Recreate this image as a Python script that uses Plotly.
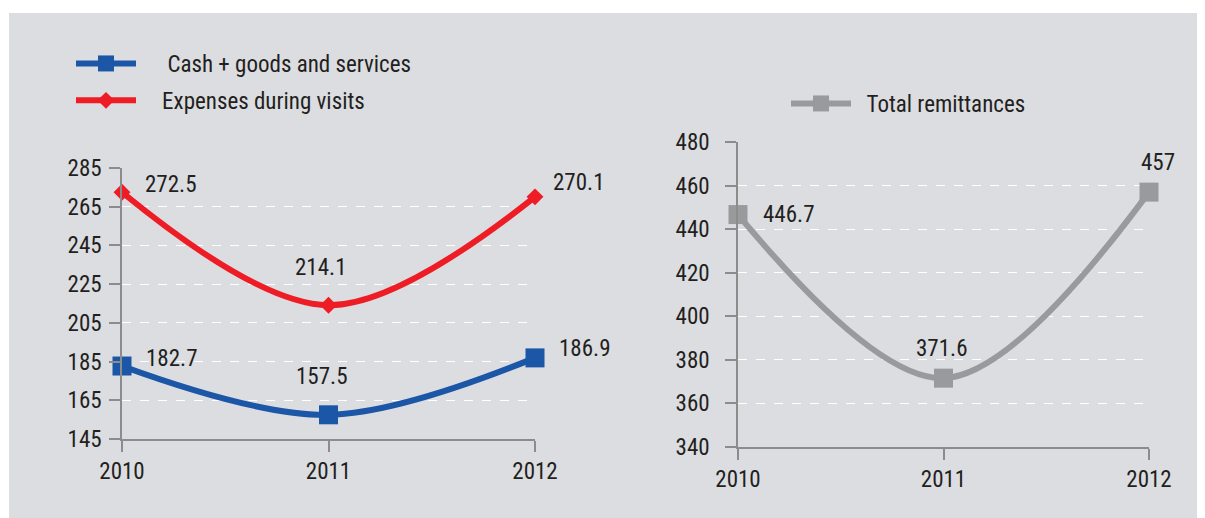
import plotly.graph_objects as go

years = [2010, 2011, 2012]
cash_goods = [182.7, 157.5, 186.9]
expenses_visits = [272.5, 214.1, 270.1]
total_remit = [446.7, 371.6, 457]

left_ticks = [145, 165, 185, 205, 225, 245, 265, 285]
right_ticks = [340, 360, 380, 400, 420, 440, 460, 480]

W, H = 1205, 518
OFF = 8  # page body margin
FONT = "Roboto Condensed, Liberation Sans Narrow, DejaVu Sans Condensed, sans-serif"
FS = 23
TXT = "#231f20"
AX = "#8c8c8c"
BG = "#dcdde0"

def px_x(p):
    return (p - OFF) / W

def px_y(p):
    return 1 - (p - OFF) / H

fig = go.Figure()

fig.add_trace(go.Scatter(
    x=years, y=cash_goods, name="\u00a0\u00a0\u00a0\u00a0\u00a0Cash + goods and services",
    mode="lines+markers", line=dict(color="#1b56a7", width=6, shape="spline", smoothing=1),
    marker=dict(symbol="square", size=19, color="#1b56a7"),
    xaxis="x", yaxis="y", legend="legend", legendgroup="a", cliponaxis=False))
fig.add_trace(go.Scatter(
    x=years, y=expenses_visits, name="\u00a0\u00a0\u00a0\u00a0Expenses during visits",
    mode="lines+markers", line=dict(color="#ee1c25", width=6, shape="spline", smoothing=1),
    marker=dict(symbol="diamond", size=13, color="#ee1c25"),
    xaxis="x", yaxis="y", legend="legend", legendgroup="b", cliponaxis=False))
fig.add_trace(go.Scatter(
    x=years, y=total_remit, name="\u00a0\u00a0Total remittances",
    mode="lines+markers", line=dict(color="#999a9c", width=6, shape="spline", smoothing=1),
    marker=dict(symbol="square", size=19, color="#999a9c"),
    xaxis="x2", yaxis="y2", legend="legend2", cliponaxis=False))

annots = []
def lab(xref, yref, x, y, dx, dy):
    annots.append(dict(x=x, y=y, xref=xref, yref=yref, text=f"{y:g}", showarrow=False,
                       xshift=dx, yshift=dy, font=dict(size=FS, color=TXT, family=FONT)))

for x, y, dx, dy in zip(years, expenses_visits, [48, -8, 43], [8, 38, 14]):
    lab("x", "y", x, y, dx, dy)
for x, y, dx, dy in zip(years, cash_goods, [49, -7, 49], [8, 38, 9]):
    lab("x", "y", x, y, dx, dy)
for x, y, dx, dy in zip(years, total_remit, [50, -2, 9], [0, 30, 30]):
    lab("x2", "y2", x, y, dx, dy)

xcommon = dict(showline=True, linecolor=AX, linewidth=1.5, ticks="outside", ticklen=11,
               tickcolor=AX, tickwidth=1.5, showgrid=False, zeroline=False, automargin=False,
               tickvals=years, ticktext=[str(v) for v in years],
               tickfont=dict(size=FS, color=TXT, family=FONT), fixedrange=True)
ycommon = dict(showline=True, linecolor=AX, linewidth=1.5, ticks="outside", ticklen=11,
               tickcolor=AX, tickwidth=1.5, showgrid=True, gridcolor="white", gridwidth=1,
               griddash="dash", zeroline=False, automargin=False,
               tickfont=dict(size=FS, color=TXT, family=FONT), fixedrange=True)

fig.update_layout(
    template="none",
    width=W, height=H, autosize=False,
    margin=dict(l=0, r=0, t=0, b=0, pad=0),
    paper_bgcolor="white", plot_bgcolor="rgba(0,0,0,0)",
    font=dict(family=FONT, color=TXT, size=FS),
    xaxis=dict(xcommon, domain=[px_x(122), px_x(535)], range=[2010, 2012], anchor="y",
               ticklabelstandoff=0),
    yaxis=dict(ycommon, domain=[px_y(439), px_y(168)], range=[145, 285], anchor="x",
               tickvals=left_ticks, ticklabelstandoff=3),
    xaxis2=dict(xcommon, domain=[px_x(738), px_x(1149)], range=[2010, 2012], anchor="y2",
                ticklabelstandoff=0),
    yaxis2=dict(ycommon, domain=[px_y(447), px_y(142)], range=[340, 480], anchor="x2",
                tickvals=right_ticks, ticklabelstandoff=11),
    legend=dict(x=px_x(71), y=px_y(42), xanchor="left", yanchor="top", itemwidth=60,
                bgcolor="rgba(0,0,0,0)", font=dict(size=FS, color=TXT, family=FONT),
                tracegroupgap=4, traceorder="grouped"),
    legend2=dict(x=px_x(786), y=px_y(82), xanchor="left", yanchor="top", itemwidth=60,
                 bgcolor="rgba(0,0,0,0)", font=dict(size=FS, color=TXT, family=FONT)),
    annotations=annots,
    shapes=[dict(type="rect", xref="paper", yref="paper", x0=px_x(9), x1=px_x(1199),
                 y0=-0.1, y1=px_y(13), fillcolor=BG, line=dict(width=0), layer="below")],
    showlegend=True,
)

fig.write_html("out.html")
